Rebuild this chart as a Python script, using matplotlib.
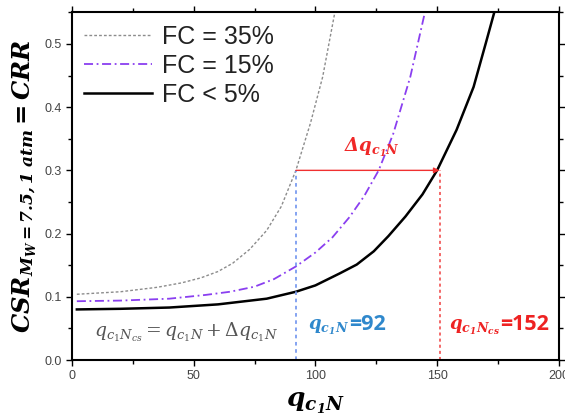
import matplotlib
matplotlib.use("Agg")
import matplotlib.pyplot as plt
from matplotlib.ticker import MultipleLocator

plt.rcParams["mathtext.fontset"] = "dejavuserif"
plt.rcParams["font.family"] = ["Liberation Sans", "DejaVu Sans"]

# FC < 5% (clean sand)
q_clean = [2, 20, 40, 60, 80, 92, 100, 110, 117, 124, 130, 137, 144, 150,
           158, 165, 170, 173.5]
crr_clean = [0.080, 0.081, 0.083, 0.088, 0.097, 0.108, 0.118, 0.137, 0.151,
             0.172, 0.196, 0.227, 0.262, 0.300, 0.364, 0.432, 0.501, 0.55]
# FC = 15%
q_fc15 = [2, 20, 40, 55, 65, 75, 83, 92, 100, 107, 114, 120, 126, 132, 139,
          145]
crr_fc15 = [0.093, 0.094, 0.097, 0.103, 0.108, 0.116, 0.128, 0.148, 0.170,
            0.194, 0.226, 0.259, 0.300, 0.358, 0.448, 0.55]
# FC = 35%
q_fc35 = [2, 20, 35, 45, 53, 60, 66, 73, 80, 86, 92, 98, 103, 108]
crr_fc35 = [0.104, 0.108, 0.115, 0.122, 0.130, 0.140, 0.153, 0.175, 0.205,
            0.243, 0.300, 0.375, 0.448, 0.55]

q_meas = 92          # q_c1N read at CRR level
q_cs = 151           # where the clean-sand curve hits the same CRR
crr_level = 0.3
label_meas = "=92"
label_cs = "=152"

fig = plt.figure(figsize=(5.65, 4.19), dpi=100)
ax = fig.add_axes([0.1274, 0.1408, 0.8616, 0.8298])

ax.plot(q_fc35, crr_fc35, color="#8c8c8c", linestyle=(0, (2, 1.5)),
        linewidth=1.0, label="FC = 35%")
ax.plot(q_fc15, crr_fc15, color="#8a3ff0", linestyle=(0, (5, 2, 1, 2)),
        linewidth=1.3, label="FC = 15%")
ax.plot(q_clean, crr_clean, color="black", linewidth=1.8, label="FC < 5%")

ax.plot([q_meas, q_meas], [0, crr_level], color="#7b9cf0",
        linestyle=(0, (2, 2)), linewidth=1.3)
ax.plot([q_cs, q_cs], [0, crr_level], color="#f04040",
        linestyle=(0, (2, 2)), linewidth=1.1)
ax.annotate("", xy=(q_cs, crr_level), xytext=(q_meas, crr_level),
            arrowprops=dict(arrowstyle="-|>", color="#f03030", lw=1.0,
                            mutation_scale=8, shrinkA=0, shrinkB=0))

ax.text(123, 0.318, r"$\mathbfit{\Delta q_{c_1N}}$", color="#f02828",
        fontsize=13, ha="center", va="bottom")
ax.text(47, 0.043, r"$q_{c_1N_{cs}}=q_{c_1N}+\Delta q_{c_1N}$",
        color="#555555", fontsize=13.5, ha="center", va="center")

t1 = ax.text(97, 0.052, r"$\mathbfit{q_{c_1N}}$",
             color="#2f88cc", fontsize=13, ha="left", va="center")
ax.annotate(label_meas, xy=(1.0, 0.62), xycoords=t1, ha="left",
            va="center", color="#2f88cc", fontsize=15.5, fontweight="bold",
            family=["Open Sans", "DejaVu Sans"])
t2 = ax.text(155, 0.052, r"$\mathbfit{q_{c_1N_{cs}}}$",
             color="#ee2222", fontsize=13, ha="left", va="center")
ax.annotate(label_cs, xy=(1.0, 0.65), xycoords=t2, ha="left",
            va="center", color="#ee2222", fontsize=15.5, fontweight="bold",
            family=["Open Sans", "DejaVu Sans"])

ax.set_xlim(0, 200)
ax.set_ylim(0, 0.55)
ax.xaxis.set_major_locator(MultipleLocator(50))
ax.xaxis.set_minor_locator(MultipleLocator(25))
ax.yaxis.set_major_locator(MultipleLocator(0.1))
ax.yaxis.set_minor_locator(MultipleLocator(0.05))
ax.tick_params(which="both", direction="out", top=True, right=True,
               labelsize=9, labelcolor="#444444", width=1.0)
ax.tick_params(which="major", length=4)
ax.tick_params(which="minor", length=3)
for s in ax.spines.values():
    s.set_linewidth(1.5)

ax.set_xlabel(r"$\mathbfit{q_{c_1N}}$", fontsize=19, labelpad=6)
ax.set_ylabel(r"$\mathbfit{CSR_{M_W=7.5,1\ atm}=CRR}$", fontsize=17.5,
              labelpad=4)

ax.legend(loc="upper left", frameon=False, fontsize=18, handlelength=2.7,
          handletextpad=0.4, labelspacing=0.2, borderaxespad=0.1,
          bbox_to_anchor=(0.0, 1.0), labelcolor="#222222")

fig.savefig("out.png", dpi=100)
